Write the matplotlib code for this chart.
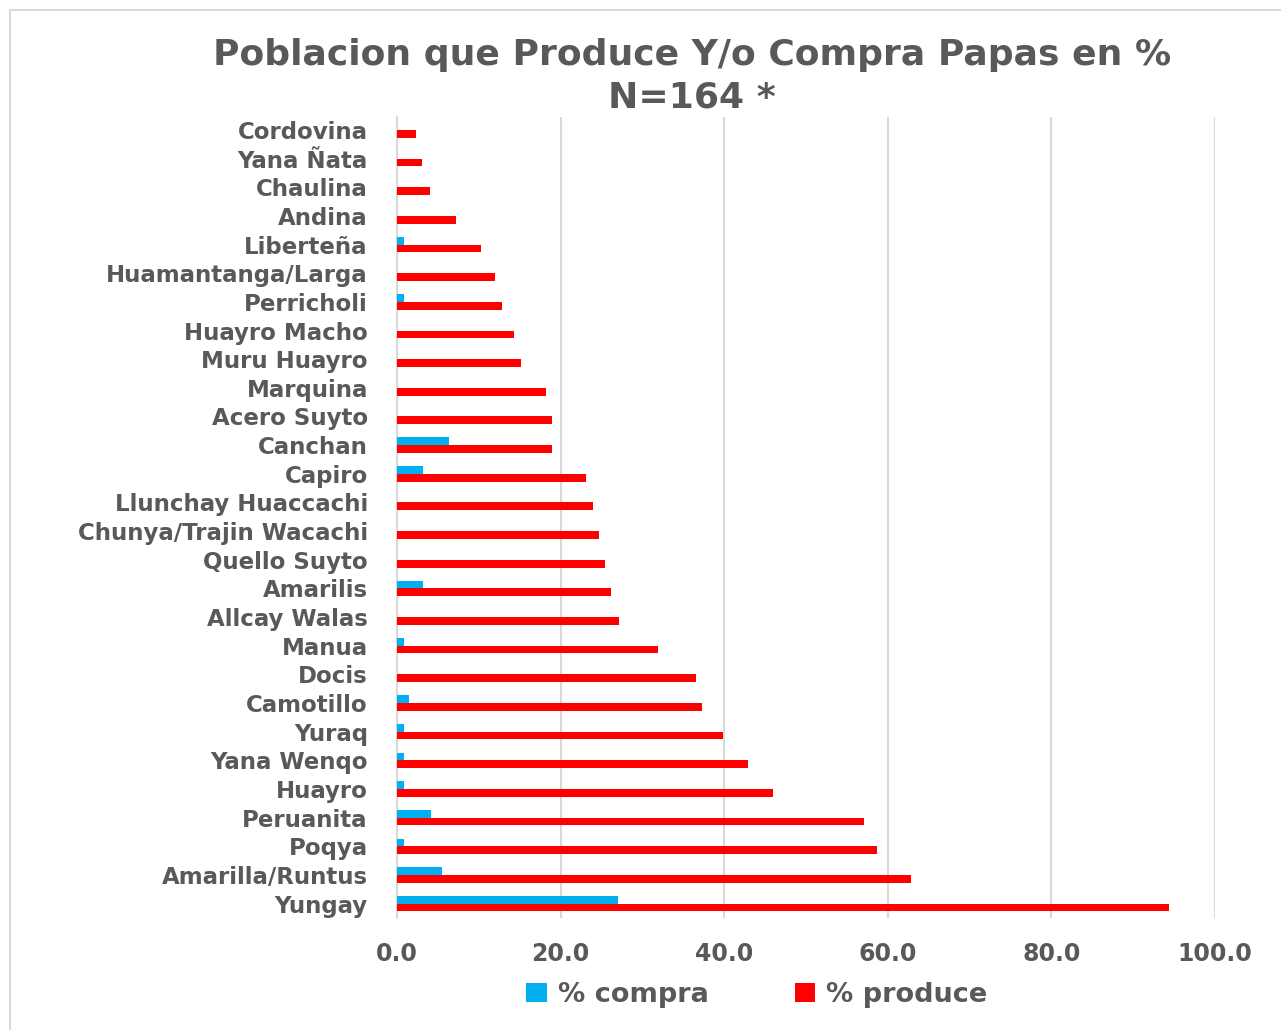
import numpy as np
import matplotlib
matplotlib.use('Agg')
import matplotlib.pyplot as plt
from matplotlib.patches import Rectangle

plt.rcParams['font.family'] = ['DejaVu Sans']
plt.rcParams['font.weight'] = 'bold'

variedades = ['Cordovina', 'Yana Ñata', 'Chaulina', 'Andina', 'Liberteña',
              'Huamantanga/Larga', 'Perricholi', 'Huayro Macho', 'Muru Huayro',
              'Marquina', 'Acero Suyto', 'Canchan', 'Capiro', 'Llunchay Huaccachi',
              'Chunya/Trajin Wacachi', 'Quello Suyto', 'Amarilis', 'Allcay Walas',
              'Manua', 'Docis', 'Camotillo', 'Yuraq', 'Yana Wenqo', 'Huayro',
              'Peruanita', 'Poqya', 'Amarilla/Runtus', 'Yungay']
pct_compra = [0, 0, 0, 0, 0.9, 0, 0.9, 0, 0, 0, 0, 6.3, 3.2, 0, 0, 0, 3.2, 0,
              0.9, 0, 1.5, 0.9, 0.9, 0.9, 4.1, 0.9, 5.5, 27.0]
pct_produce = [2.3, 3.1, 4.0, 7.2, 10.3, 12.0, 12.8, 14.3, 15.1, 18.2, 19.0, 19.0,
               23.1, 23.9, 24.7, 25.4, 26.2, 27.1, 31.9, 36.6, 37.3, 39.8, 42.9,
               46.0, 57.1, 58.7, 62.8, 94.4]

gris = '#595959'
linea = '#d9d9d9'

fig = plt.figure(figsize=(12.81, 10.30), dpi=100)
fig.patches.append(Rectangle((10 / 1281, -0.05), 1.2, 1.05 - 10 / 1030,
                             transform=fig.transFigure, fill=False,
                             edgecolor=linea, lw=1.5))

ax = fig.add_axes([397 / 1281, 1 - 918 / 1030, (1215 - 397) / 1281, (918 - 117) / 1030])
y = np.arange(len(variedades))
h = 0.27
ax.barh(y - h / 2, pct_compra, height=h, color='#00b0f0', label='% compra', zorder=3)
ax.barh(y + h / 2, pct_produce, height=h, color='#ff0000', label='% produce', zorder=3)

ax.set_xlim(0, 100)
ax.set_ylim(len(variedades) - 0.5, -0.45)
ax.set_xticks(np.arange(0, 101, 20))
ax.set_xticklabels([f'{v:.1f}' for v in np.arange(0, 101, 20)])
ax.set_yticks(y)
ax.set_yticklabels(variedades)
ax.tick_params(axis='both', length=0, colors=gris)
ax.tick_params(axis='y', pad=21, labelsize=16.5)
ax.tick_params(axis='x', pad=17, labelsize=17)
ax.grid(axis='x', color=linea, lw=1.5, zorder=0)
for s in ['top', 'right', 'bottom']:
    ax.spines[s].set_visible(False)
ax.spines['left'].set_color(linea)
ax.spines['left'].set_linewidth(1.5)

fig.text(692 / 1281, 1 - 76 / 1030, 'Poblacion que Produce Y/o Compra Papas en %\nN=164 *',
         ha='center', va='center', fontsize=26, color=gris, fontweight='bold',
         linespacing=1.3)

fig.legend(loc='center', bbox_to_anchor=(757 / 1281, 1 - 995 / 1030), ncol=2,
           frameon=False, fontsize=19.5, labelcolor=gris, handlelength=0.75,
           handleheight=0.75, handletextpad=0.4, columnspacing=3.2)

plt.savefig('out.png', dpi=100)
plt.close()
